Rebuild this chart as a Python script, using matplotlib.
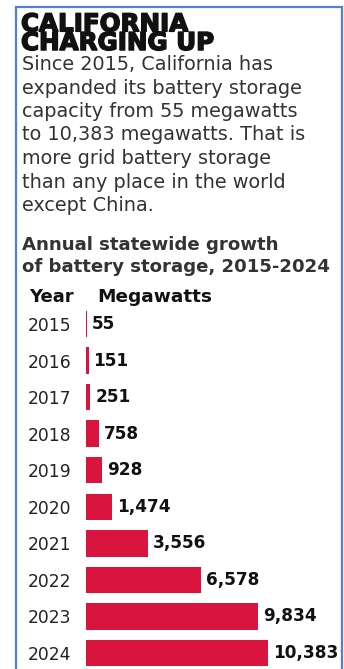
import matplotlib
matplotlib.use("Agg")
import matplotlib.pyplot as plt
from matplotlib.patches import Rectangle
import matplotlib.patheffects as pe

years = ["2015", "2016", "2017", "2018", "2019", "2020", "2021", "2022", "2023", "2024"]
megawatts = [55, 151, 251, 758, 928, 1474, 3556, 6578, 9834, 10383]

title_lines = ["CALIFORNIA", "CHARGING UP"]
body_lines = ["Since 2015, California has",
              "expanded its battery storage",
              "capacity from 55 megawatts",
              "to 10,383 megawatts. That is",
              "more grid battery storage",
              "than any place in the world",
              "except China."]
subtitle_lines = ["Annual statewide growth", "of battery storage, 2015-2024"]

W, H = 344, 669
DPI = 100
fig = plt.figure(figsize=(W / DPI, H / DPI), dpi=DPI)
fig.patch.set_facecolor("white")

def fx(x):
    return x / W

def fy(y):
    return 1 - y / H

BAR = "#D8143F"
FONT = ["DejaVu Sans"]

# border
fig.add_artist(Rectangle((fx(16), fy(700)), fx(342) - fx(16), fy(7) - fy(700),
                         transform=fig.transFigure, fill=False,
                         edgecolor="#4F7FD6", linewidth=1.6))

fig.text(fx(21), fy(50), "\n".join(title_lines), fontsize=17.7, fontweight="bold",
         family=FONT, color="#111111", va="baseline", ha="left", linespacing=0.72,
         path_effects=[pe.withStroke(linewidth=1.1, foreground="#111111")])

for i, t in enumerate(body_lines):
    fig.text(fx(22), fy(70 + 23.5 * i), t, fontsize=13.9, family=FONT,
             color="#333333", va="baseline", ha="left")

for i, t in enumerate(subtitle_lines):
    fig.text(fx(22), fy(250 + 22.5 * i), t, fontsize=13.1, fontweight="bold",
             family=FONT, color="#333333", va="baseline", ha="left")

fig.text(fx(29), fy(302), "Year", fontsize=13, fontweight="bold", family=FONT,
         color="#111111", va="baseline", ha="left")
fig.text(fx(97), fy(302), "Megawatts", fontsize=13.3, fontweight="bold", family=FONT,
         color="#111111", va="baseline", ha="left")

# bar axes
left, right = 86, 340
top, bottom = 324 - 18.3, 653 + 18.3
ax = fig.add_axes([fx(left), fy(bottom), fx(right) - fx(left), fy(top) - fy(bottom)])
xmax = megawatts[-1] * (right - left) / (268 - left)
pos = list(range(len(years)))
ax.barh(pos, megawatts, height=0.72, color=BAR, edgecolor="none")
ax.set_xlim(0, xmax)
ax.set_ylim(len(years) - 0.5, -0.5)
ax.set_yticks(pos)
ax.set_yticklabels(years, fontsize=12.3, family=FONT, color="#222222")
ax.tick_params(axis="y", length=0, pad=10.5)
ax.set_xticks([])
for s in ax.spines.values():
    s.set_visible(False)
ax.patch.set_alpha(0)

for p, v in zip(pos, megawatts):
    ax.annotate(f"{v:,}", xy=(v, p), xytext=(3.5, 0), textcoords="offset points",
                ha="left", va="center", fontsize=12.2, fontweight="bold",
                family=FONT, color="#111111")

fig.savefig("out.png", dpi=DPI)
